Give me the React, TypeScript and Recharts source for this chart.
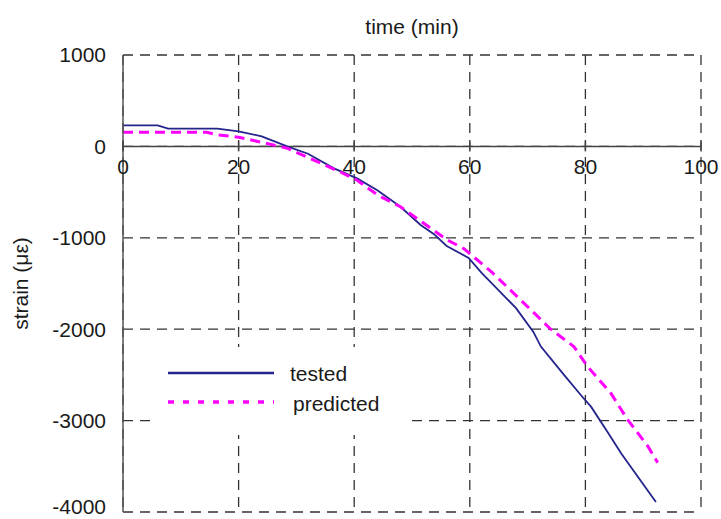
import React from 'react';
import { LineChart, Line, XAxis, YAxis, CartesianGrid, ReferenceLine, ReferenceDot, Legend } from 'recharts';

const testedTime = [0, 6, 7.8, 16.3, 20, 24, 28.4, 32, 36.5, 40.5, 44, 48, 51.5, 53.8, 56, 59.8, 62, 68, 71, 72.3, 76.3, 79.2, 81, 84, 86.2, 92.2];
const testedStrain = [230, 230, 195, 195, 165, 110, 0, -80, -240, -350, -480, -660, -860, -960, -1090, -1220, -1380, -1770, -2030, -2190, -2500, -2720, -2850, -3140, -3360, -3890];

const predictedTime = [0, 14.5, 16, 20, 24, 28.4, 33, 37.6, 40.5, 44, 48, 51.8, 56, 59, 63.7, 70.6, 74, 78, 80.4, 84.4, 87.3, 90.8, 92.5];
const predictedStrain = [155, 155, 130, 100, 45, -20, -150, -280, -370, -530, -660, -830, -1020, -1120, -1370, -1790, -2000, -2190, -2410, -2700, -2990, -3280, -3460];

const xTicks = [0, 20, 40, 60, 80, 100];
const yTicks = [1000, 0, -1000, -2000, -3000, -4000];

const testedData = testedTime.map((t, i) => ({ t, v: testedStrain[i] }));
const predictedData = predictedTime.map((t, i) => ({ t, v: predictedStrain[i] }));

const FONT = '"Liberation Sans", Arial, Helvetica, sans-serif';
const TESTED_COLOR = '#24248c';
const PRED_COLOR = '#ff00ff';
const TEXT = '#1a1a1a';

const LegendContent = () => (
  <svg width={257} height={88} style={{ display: 'block' }}>
    <line x1={18} x2={124} y1={26} y2={26} stroke={TESTED_COLOR} strokeWidth={2.5} />
    <text x={140} y={26} dominantBaseline="central" fontSize={21} fontFamily={FONT} fill={TEXT}>tested</text>
    <line x1={18} x2={124} y1={55} y2={55} stroke={PRED_COLOR} strokeWidth={3.5} strokeDasharray="6 9" />
    <text x={143} y={56} dominantBaseline="central" fontSize={21} fontFamily={FONT} fill={TEXT}>predicted</text>
  </svg>
);

const tickMark = (p: any) => (
  <line x1={p.cx} x2={p.cx} y1={p.cy - 5} y2={p.cy + 5} stroke="#444" strokeWidth={1.5} />
);

const noTick = () => <g />;

export default function App() {
  return (
    <div style={{ position: 'absolute', left: 0, top: 0, width: 721, height: 519, background: '#fff' }}>
      <LineChart width={721} height={519} margin={{ top: 13, right: 20, bottom: 7, left: 10 }}>
        <CartesianGrid stroke="#333" strokeWidth={1.3} strokeDasharray="10 7" />
        <XAxis
          type="number"
          dataKey="t"
          orientation="top"
          domain={[0, 100]}
          ticks={xTicks}
          height={42}
          axisLine={false}
          tickLine={false}
          tick={noTick}
          label={{ value: 'time (min)', position: 'insideTop', offset: 6, fontSize: 21, fontFamily: FONT, fill: TEXT }}
        />
        <YAxis
          type="number"
          domain={[-4000, 1000]}
          ticks={yTicks}
          width={113}
          axisLine={{ stroke: '#555', strokeWidth: 1.5 }}
          tickLine={false}
          tickSize={0}
          tickMargin={17}
          tick={{ fontSize: 21, fontFamily: FONT, fill: TEXT }}
          label={{ value: 'strain (με)', angle: -90, position: 'insideLeft', offset: 11, fontSize: 21, fontFamily: FONT, fill: TEXT, style: { textAnchor: 'middle' } }}
        />
        <ReferenceLine y={0} stroke="#444" strokeWidth={1.5} />
        {xTicks.map((t) => (
          <ReferenceDot key={t} x={t} y={0} r={0} ifOverflow="visible" shape={tickMark}
            label={{ value: String(t), position: 'bottom', offset: 13, fontSize: 21, fontFamily: FONT, fill: TEXT }} />
        ))}
        <Line data={testedData} dataKey="v" name="tested" type="linear" stroke={TESTED_COLOR} strokeWidth={1.8} dot={false} isAnimationActive={false} />
        <Line data={predictedData} dataKey="v" name="predicted" type="linear" stroke={PRED_COLOR} strokeWidth={3} strokeDasharray="10 6" dot={false} isAnimationActive={false} />
        <Legend layout="vertical" align="center" verticalAlign="middle" content={LegendContent}
          wrapperStyle={{ position: 'absolute', left: 150, top: 347, width: 257, height: 88, background: '#fff' }} />
      </LineChart>
    </div>
  );
}
